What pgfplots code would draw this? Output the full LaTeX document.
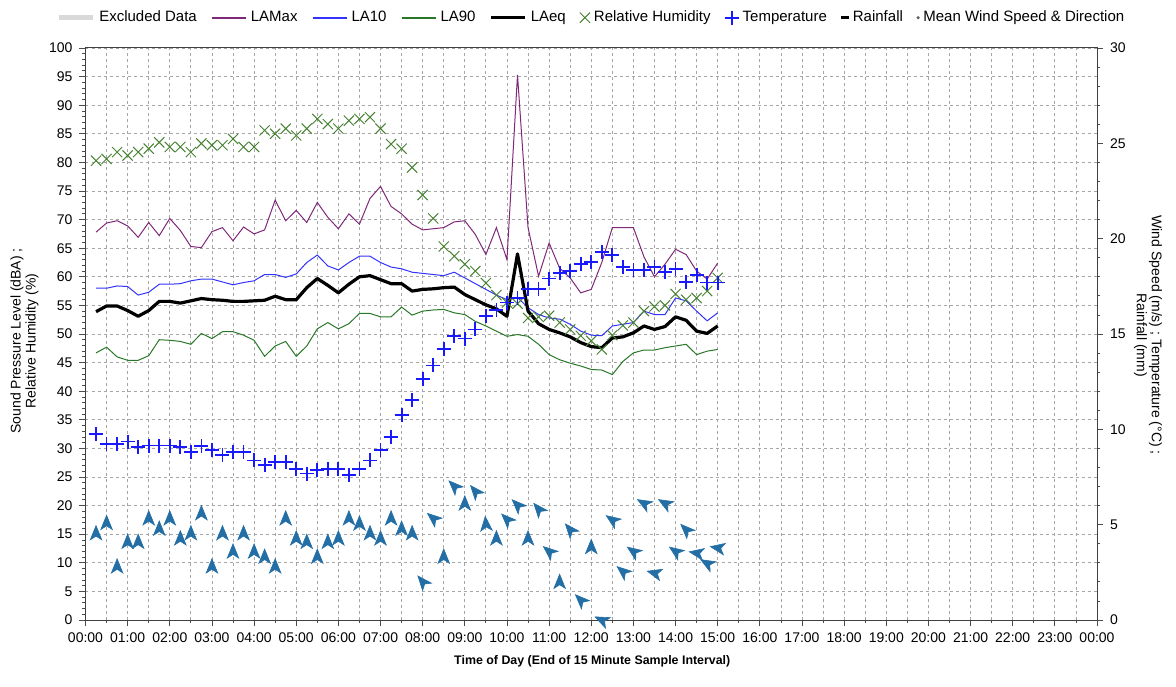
\documentclass[border=0pt]{standalone}
\usepackage{fontspec}
\setmainfont{Liberation Sans}
\usepackage{pgfplots}
\pgfplotsset{compat=1.18}
\usepackage{pgfplotstable}

\definecolor{cmax}{RGB}{128,40,120}
\definecolor{cten}{RGB}{50,50,250}
\definecolor{cninety}{RGB}{40,120,40}
\definecolor{crh}{RGB}{70,130,50}
\definecolor{ctemp}{RGB}{25,25,255}
\definecolor{cwind}{RGB}{35,110,165}

% t = end of 15 min interval (h); levels dBA; rh %; temp degC; ws m/s; wd = marker rotation (deg)
\pgfplotstableread{
t     lmax l10  l90  leq  rh   temp  ws   wd
0.25  67.8 58.0 46.7 53.9 80.3 9.75  4.56 0
0.50  69.4 58.0 47.7 54.9 80.6 9.24  5.10 0
0.75  69.8 58.4 46.0 54.9 81.8 9.24  2.82 0
1.00  68.9 58.3 45.4 54.1 81.2 9.36  4.11 0
1.25  66.9 56.8 45.4 53.1 81.8 9.06  4.11 0
1.50  69.5 57.3 46.2 54.1 82.4 9.15  5.34 0
1.75  67.2 58.7 49.0 55.7 83.5 9.15  4.80 0
2.00  70.2 58.7 48.9 55.7 82.7 9.15  5.34 0
2.25  68.1 58.8 48.7 55.4 82.7 9.06  4.29 0
2.50  65.3 59.3 48.2 55.8 81.8 8.82  4.56 0
2.75  65.1 59.6 50.1 56.2 83.3 9.12  5.61 0
3.00  67.9 59.6 49.2 56.0 83.0 8.91  2.82 0
3.25  68.6 59.1 50.4 55.9 83.0 8.64  4.56 0
3.50  66.3 58.6 50.4 55.7 84.1 8.82  3.60 0
3.75  68.7 59.0 49.8 55.7 82.7 8.82  4.56 0
4.00  67.5 59.3 48.9 55.8 82.7 8.37  3.60 0
4.25  68.2 60.4 46.1 55.9 85.6 8.13  3.33 0
4.50  73.4 60.4 47.9 56.6 85.0 8.28  2.82 0
4.75  69.8 59.9 48.7 56.0 85.9 8.28  5.34 0
5.00  71.6 60.5 46.1 56.0 84.7 7.92  4.29 0
5.25  69.5 62.5 47.9 58.1 85.9 7.68  4.11 0
5.50  73.0 63.8 50.9 59.7 87.6 7.86  3.33 0
5.75  70.4 61.9 52.0 58.5 86.7 7.92  4.11 0
6.00  68.4 61.2 50.9 57.2 85.9 7.92  4.29 0
6.25  71.0 62.5 51.8 58.7 87.3 7.59  5.34 0
6.50  69.2 63.6 53.6 60.0 87.6 7.92  5.07 0
6.75  73.7 63.6 53.6 60.2 87.9 8.37  4.56 0
7.00  75.8 62.5 53.0 59.5 85.9 8.91  4.29 0
7.25  72.3 61.7 53.0 58.8 83.2 9.60  5.34 0
7.50  71.0 61.4 54.7 58.8 82.4 10.77 4.80 0
7.75  69.2 60.8 53.3 57.5 79.1 11.55 4.56 0
8.00  68.2 60.6 54.0 57.8 74.3 12.66 2.01 40
8.25  68.4 60.4 54.2 57.9 70.2 13.35 5.34 50
8.50  68.6 60.2 54.3 58.1 65.3 14.22 3.33 0
8.75  69.6 60.8 53.7 58.2 63.6 14.91 7.02 45
9.00  69.8 59.8 53.4 56.9 62.2 14.76 6.12 0
9.25  67.4 58.8 52.2 56.0 61.0 15.24 6.75 40
9.50  63.9 57.8 51.4 55.1 58.9 15.96 5.04 5
9.75  68.6 56.8 50.5 54.4 56.8 16.26 4.29 0
10.00 63.0 56.0 49.6 53.1 55.5 16.65 5.28 45
10.25 95.3 56.4 49.9 64.0 55.3 16.89 6.03 45
10.50 68.6 54.6 49.6 54.0 52.8 17.34 4.29 0
10.75 60.1 53.4 48.2 51.8 53.0 17.37 5.82 40
11.00 65.9 52.8 46.4 50.8 53.2 17.91 3.60 50
11.25 61.5 52.6 45.5 50.2 52.0 18.21 2.01 0
11.50 59.8 51.7 44.9 49.5 50.8 18.30 4.74 40
11.75 57.2 50.5 44.4 48.5 49.7 18.66 1.05 45
12.00 57.8 49.8 43.8 47.8 48.8 18.78 3.84 0
12.25 62.5 49.7 43.7 47.6 47.3 19.29 0.00 65
12.50 68.6 51.4 42.9 49.3 49.8 19.14 5.25 55
12.75 68.6 51.7 45.2 49.5 51.5 18.51 2.55 50
13.00 68.6 52.0 46.7 50.2 52.0 18.36 3.60 55
13.25 63.5 54.0 47.2 51.4 54.0 18.36 6.12 60
13.50 60.0 53.4 47.2 50.8 54.8 18.51 2.46 75
13.75 62.2 53.4 47.6 51.3 55.0 18.27 6.12 60
14.00 64.8 56.3 47.9 53.0 57.0 18.39 3.60 55
14.25 63.9 55.8 48.2 52.4 56.0 17.73 4.74 45
14.50 61.0 54.0 46.4 50.5 56.3 18.09 3.51 80
14.75 59.6 52.3 47.0 50.1 57.5 17.70 2.97 60
15.00 62.4 53.7 47.3 51.4 59.8 17.70 3.78 80
}\data

% notched navigation arrow, pointing up before rotation
\pgfdeclareplotmark{navarrow}{%
  \pgfpathmoveto{\pgfpoint{0pt}{1.1\pgfplotmarksize}}%
  \pgfpathlineto{\pgfpoint{0.85\pgfplotmarksize}{-1\pgfplotmarksize}}%
  \pgfpathlineto{\pgfpoint{0pt}{-0.45\pgfplotmarksize}}%
  \pgfpathlineto{\pgfpoint{-0.85\pgfplotmarksize}{-1\pgfplotmarksize}}%
  \pgfpathclose
  \pgfusepathqfillstroke
}

\pgfplotsset{
  common/.style={
    at={(0pt,0pt)}, anchor=south west,
    scale only axis, width=505.75pt, height=286pt,
    xmin=0, xmax=24,
    tick align=outside,
    major tick length=3pt, minor tick length=1.5pt,
    every tick/.style={black!70, line width=0.4pt},
    axis line style={black!75, line width=0.5pt},
    tick label style={font=\fontsize{7}{8}\selectfont},
    label style={font=\fontsize{7}{7.6}\selectfont},
    /pgf/number format/assume math mode=true,
  },
  lineimg/.style={legend image code/.code={\draw[##1] (0pt,0pt) -- (17pt,0pt);}},
}

\begin{document}
\begin{tikzpicture}
\path[use as bounding box] (-42.75pt,-33pt) rectangle (545.25pt,310pt);

\begin{axis}[common,
  ymin=0, ymax=100,
  xtick={0,1,...,24},
  xticklabels={00:00,01:00,02:00,03:00,04:00,05:00,06:00,07:00,08:00,09:00,10:00,11:00,
    12:00,13:00,14:00,15:00,16:00,17:00,18:00,19:00,20:00,21:00,22:00,23:00,00:00},
  minor x tick num=1,
  ytick={0,5,...,100},
  minor y tick num=4,
  tick pos=left,
  xmajorgrids, xminorgrids, ymajorgrids,
  major grid style={dash pattern=on 1.5pt off 1.5pt, black!35, line width=0.4pt},
  minor grid style={dash pattern=on 1.5pt off 1.5pt, black!35, line width=0.4pt},
  xlabel={Time of Day (End of 15 Minute Sample Interval)},
  xlabel style={at={(axis description cs:0.501,0)}, anchor=center, yshift=-20.5pt,
    font=\fontsize{6.2}{7}\selectfont\bfseries},
  ylabel={Sound Pressure Level (dBA) ;\\Relative Humidity (\%)},
  ylabel style={at={(axis description cs:-0.0603,0.488)}, anchor=center, align=center},
  legend style={at={(0.501,1.053)}, anchor=center, draw=none, fill=none,
    legend columns=-1, font=\fontsize{7.5}{8.5}\selectfont,
    /tikz/every even column/.append style={column sep=5pt}},
]
\addlegendimage{lineimg, draw=black!15, line width=2.5pt}
\addlegendentry{Excluded Data}
\addlegendimage{lineimg, draw=cmax, line width=1pt}
\addlegendentry{LAMax}
\addlegendimage{lineimg, draw=cten, line width=1pt}
\addlegendentry{LA10}
\addlegendimage{lineimg, draw=cninety, line width=1pt}
\addlegendentry{LA90}
\addlegendimage{lineimg, draw=black, line width=1.6pt}
\addlegendentry{LAeq}
\addlegendimage{only marks, mark=x, mark size=3.6pt, mark options={crh, line width=0.5pt}}
\addlegendentry{Relative Humidity}
\addlegendimage{only marks, mark=+, mark size=3.5pt, mark options={ctemp, line width=0.9pt}}
\addlegendentry{Temperature}
\addlegendimage{only marks, mark=-, mark size=2pt, mark options={black, line width=1.6pt}}
\addlegendentry{Rainfall}
\addlegendimage{only marks, mark=*, mark size=0.6pt, mark options={black!60}}
\addlegendentry{Mean Wind Speed \& Direction}

\addplot[forget plot, only marks, mark=x, mark size=3.6pt, mark options={crh, line width=0.5pt}] table[x=t, y=rh] {\data};
\addplot[forget plot, cninety, line width=0.5pt] table[x=t, y=l90] {\data};
\addplot[forget plot, cmax, line width=0.5pt] table[x=t, y=lmax] {\data};
\addplot[forget plot, cten, line width=0.5pt] table[x=t, y=l10] {\data};
\addplot[forget plot, black, line width=1.6pt, line join=round] table[x=t, y=leq] {\data};
\end{axis}

\begin{axis}[common,
  ymin=0, ymax=30,
  axis y line*=right, axis x line=none,
  ytick={0,5,...,30},
  minor y tick num=4,
  ylabel={Wind Speed (m/s) ; Temperature (°C) ;\\Rainfall (mm)},
  ylabel style={at={(axis description cs:1.0504,0.498)}, anchor=center, align=center, rotate=180},
]
\addplot[only marks, mark=+, mark size=3.5pt, mark options={ctemp, line width=0.9pt}] table[x=t, y=temp] {\data};
\addplot[scatter, only marks, mark=navarrow, mark size=3.4pt, line width=0.3pt,
  scatter/use mapped color={draw=cwind, fill=cwind},
  visualization depends on={\thisrow{wd} \as \wdir},
  scatter/@pre marker code/.append style={/tikz/rotate=\wdir},
] table[x=t, y=ws] {\data};
\end{axis}
\end{tikzpicture}
\end{document}
